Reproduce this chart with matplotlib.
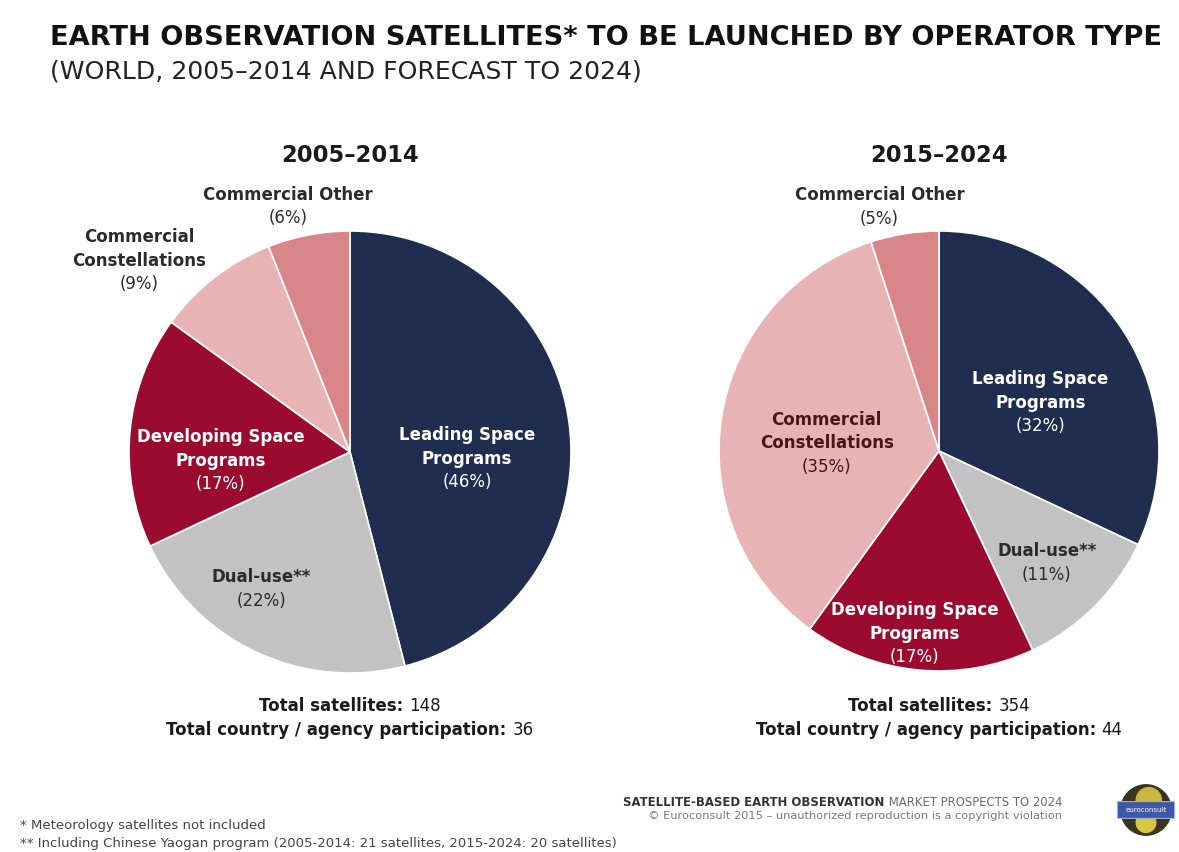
import matplotlib.pyplot as plt
from matplotlib.patches import Circle, FancyBboxPatch

plt.rcParams['font.family'] = ['DejaVu Sans']

categories = ['Leading Space\nPrograms', 'Dual-use**', 'Developing Space\nPrograms',
              'Commercial\nConstellations', 'Commercial Other']
share_2005 = [46, 22, 17, 9, 6]
share_2015 = [32, 11, 17, 35, 5]
periods = ['2005\u20132014', '2015\u20132024']
total_sats = [148, 354]
total_agencies = [36, 44]

colors = ['#1f2e4f', '#c2c2c2', '#9b0b30', '#e7b3b5', '#d8868a']

W, H = 1179, 852
fig = plt.figure(figsize=(W / 100, H / 100), dpi=100)
fig.patch.set_facecolor('white')
renderer = fig.canvas.get_renderer()


def px_axes(cx, cy, r):
    return fig.add_axes([(cx - r) / W, (H - cy - r) / H, 2 * r / W, 2 * r / H])


def draw_pie(cx, cy, r, values, period, label_pos, label_colors):
    ax = px_axes(cx, cy, r)
    ax.pie(values, colors=colors, startangle=90, counterclock=False, radius=1,
           wedgeprops=dict(edgecolor='white', linewidth=1.2))
    ax.set_xlim(-1, 1)
    ax.set_ylim(-1, 1)
    ax.set_aspect('equal')
    ax.axis('off')
    step = 23.5 / r
    for name, v, (x, y), lc in zip(categories, values, label_pos, label_colors):
        lines = name.split('\n')
        n = len(lines) + 1
        top = y + (n - 1) / 2 * step
        for k, line in enumerate(lines):
            ax.text(x, top - k * step, line, ha='center', va='center', fontsize=12,
                    fontweight='bold', color=lc, clip_on=False)
        ax.text(x, top - len(lines) * step, '(%d%%)' % v, ha='center', va='center',
                fontsize=12, color=lc, clip_on=False)
    fig.text(cx / W, 1 - 155 / H, period, ha='center', va='center',
             fontsize=16.3, fontweight='bold', color='#1a1a1a')
    return ax


dark = '#2b2b2b'
# label block centres in pie coordinates (radius = 1)
pos_left = [(0.53, -0.03), (-0.40, -0.62), (-0.585, -0.04), (-0.955, 0.865), (-0.28, 1.11)]
pos_right = [(0.46, 0.22), (0.49, -0.51), (-0.11, -0.83), (-0.51, 0.036), (-0.27, 1.11)]

draw_pie(350, 452, 221, share_2005, periods[0], pos_left,
         ['white', dark, 'white', dark, dark])
draw_pie(939, 451, 220, share_2015, periods[1], pos_right,
         ['white', dark, 'white', '#4a1418', dark])


def mixed_line(x, y, bold_part, normal_part, size):
    """Centred line with a bold lead-in and a regular tail."""
    t1 = fig.text(0, 0, bold_part, fontsize=size, fontweight='bold', color='#1a1a1a')
    t2 = fig.text(0, 0, normal_part, fontsize=size, color='#1a1a1a')
    w1 = t1.get_window_extent(renderer).width
    w2 = t2.get_window_extent(renderer).width
    left = x - (w1 + w2) / 2
    t1.set_position((left / W, 1 - y / H))
    t2.set_position(((left + w1) / W, 1 - y / H))
    t1.set_va('center')
    t2.set_va('center')


for cx, s, a in zip([350, 939], total_sats, total_agencies):
    mixed_line(cx, 706, 'Total satellites: ', str(s), 12)
    mixed_line(cx, 730, 'Total country / agency participation: ', str(a), 12)


def fitted_text(x, y, s, width, size, **kw):
    """Left-aligned heading scaled so it spans the given pixel width."""
    t = fig.text(x / W, 1 - y / H, s, fontsize=size, va='center', **kw)
    w = t.get_window_extent(renderer).width
    t.set_fontsize(size * width / w)
    return t


fitted_text(50, 38, 'EARTH OBSERVATION SATELLITES* TO BE LAUNCHED BY OPERATOR TYPE',
            1110, 18, fontweight='bold', color='#111111', fontstretch='semi-condensed')
fitted_text(50, 72, '(WORLD, 2005\u20132014 AND FORECAST TO 2024)',
            590, 15, color='#222222')

fig.text(20 / W, 1 - 826 / H, '* Meteorology satellites not included',
         fontsize=9.5, color='#444444', va='center')
fig.text(20 / W, 1 - 843 / H,
         '** Including Chinese Yaogan program (2005-2014: 21 satellites, 2015-2024: 20 satellites)',
         fontsize=9.5, color='#444444', va='center')

t_norm = fig.text(1062 / W, 1 - 802 / H, ' MARKET PROSPECTS TO 2024', fontsize=8.4,
                  color='#6a6a6a', ha='right', va='center')
wn = t_norm.get_window_extent(renderer).width
fig.text((1062 - wn) / W, 1 - 802 / H, 'SATELLITE-BASED EARTH OBSERVATION', fontsize=8.4,
         fontweight='bold', color='#333333', ha='right', va='center')
fig.text(1062 / W, 1 - 816 / H,
         '\u00a9 Euroconsult 2015 \u2013 unauthorized reproduction is a copyright violation',
         fontsize=8.2, color='#7a7a7a', ha='right', va='center')

# small globe logo
lax = fig.add_axes([1118 / W, (H - 838) / H, 56 / W, 56 / H])
lax.set_xlim(-1, 1)
lax.set_ylim(-1, 1)
lax.set_aspect('equal')
lax.axis('off')
lax.add_patch(Circle((0, 0), 0.9, color='#3a3520'))
lax.add_patch(Circle((0.1, 0.35), 0.45, color='#c9b83a'))
lax.add_patch(Circle((0.0, -0.45), 0.35, color='#d6c640'))
lax.add_patch(FancyBboxPatch((-1.0, -0.28), 2.0, 0.56, boxstyle='round,pad=0.02',
                             facecolor='#3e58a8', edgecolor='#9fb0de', linewidth=0.8,
                             clip_on=False))
lax.text(0, 0, 'euroconsult', color='white', fontsize=5, ha='center', va='center')

fig.savefig('out.png', dpi=100, facecolor='white')
